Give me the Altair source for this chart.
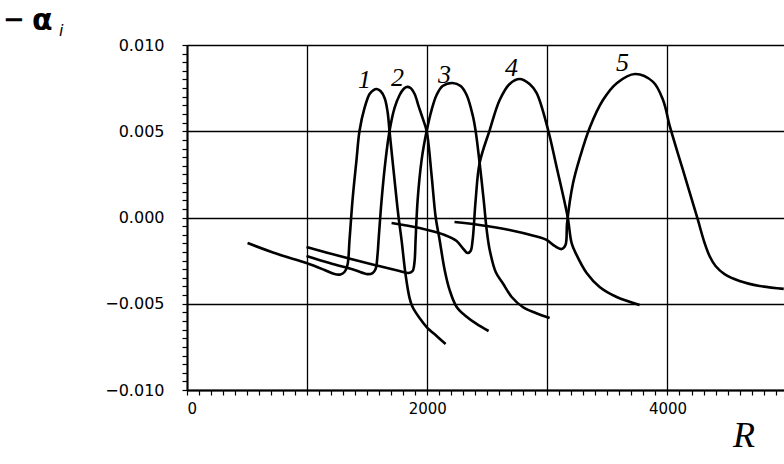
import altair as alt
import pandas as pd

# ---- curve data (R, -alpha_i) ----
c1_R = [504, 754, 995, 1145, 1228, 1278, 1311, 1336, 1353, 1378, 1411, 1436, 1478, 1520, 1553, 1578,
        1611, 1645, 1670, 1686, 1728, 1761, 1786, 1820, 1853, 1878, 1936, 1995, 2078, 2153]
c1_a = [-0.00148, -0.00212, -0.00264, -0.00304, -0.00328, -0.00330, -0.00316, -0.00275, -0.00130, 0.00101,
        0.00333, 0.00501, 0.00635, 0.00716, 0.00739, 0.00745, 0.00733, 0.00693, 0.00612, 0.00501,
        0.00217, 0.00003, -0.00130, -0.00333, -0.00467, -0.00519, -0.00583, -0.00635, -0.00687, -0.00733]

c2_R = [995, 1187, 1395, 1503, 1545, 1570, 1586, 1595, 1620, 1653, 1686, 1728, 1770, 1803, 1828, 1861,
        1895, 1928, 1961, 1995, 2036, 2070, 2103, 2145, 2186, 2245, 2320, 2411, 2511]
c2_a = [-0.00223, -0.00264, -0.00304, -0.00328, -0.00322, -0.00299, -0.00217, -0.00130, 0.00101, 0.00333,
        0.00501, 0.00635, 0.00710, 0.00745, 0.00757, 0.00751, 0.00716, 0.00646, 0.00577, 0.00501,
        0.00246, 0.00003, -0.00130, -0.00304, -0.00420, -0.00519, -0.00571, -0.00617, -0.00658]

c3_R = [995, 1270, 1561, 1769, 1844, 1878, 1894, 1903, 1920, 1953, 1995, 2036, 2078, 2128, 2211, 2278,
        2328, 2378, 2403, 2436, 2470, 2495, 2520, 2570, 2628, 2703, 2795, 2903, 3019]
c3_a = [-0.00171, -0.00223, -0.00275, -0.00310, -0.00322, -0.00310, -0.00258, -0.00130, 0.00101, 0.00333,
        0.00501, 0.00623, 0.00710, 0.00762, 0.00780, 0.00762, 0.00710, 0.00594, 0.00501, 0.00316,
        0.00101, -0.00072, -0.00188, -0.00316, -0.00380, -0.00461, -0.00519, -0.00554, -0.00583]

c4_R = [1703, 1936, 2145, 2245, 2295, 2336, 2361, 2378, 2403, 2436, 2520, 2603, 2686, 2769, 2852,
        2910, 3002, 3077, 3169, 3202, 3243, 3327, 3435, 3577, 3768]
c4_a = [-0.00032, -0.00061, -0.00101, -0.00136, -0.00177, -0.00206, -0.00194, -0.00130, 0.00101, 0.00316,
        0.00507, 0.00681, 0.00774, 0.00803, 0.00774, 0.00722, 0.00519, 0.00293, 0.00003,
        -0.00148, -0.00217, -0.00322, -0.00403, -0.00461, -0.00507]

c5_R = [2227, 2435, 2685, 2893, 2993, 3060, 3118, 3151, 3164, 3214, 3272, 3355, 3463, 3580, 3730, 3880,
        3963, 4021, 4121, 4246, 4309, 4350, 4400, 4475, 4600, 4767, 4968]
c5_a = [-0.00026, -0.00043, -0.00072, -0.00107, -0.00130, -0.00165, -0.00183, -0.00159, -0.00032, 0.00200,
        0.00351, 0.00525, 0.00681, 0.00780, 0.00832, 0.00786, 0.00681, 0.00525, 0.00293, 0.00003,
        -0.00148, -0.00223, -0.00281, -0.00328, -0.00368, -0.00397, -0.00414]

curve_names = ["1", "2", "3", "4", "5"]
label_R = [1478, 1753, 2144, 2702, 3626]
label_a = [0.00797, 0.00809, 0.00826, 0.00867, 0.00896]

rows = []
for name, xs, ys in zip(curve_names, [c1_R, c2_R, c3_R, c4_R, c5_R], [c1_a, c2_a, c3_a, c4_a, c5_a]):
    for i, (xv, yv) in enumerate(zip(xs, ys)):
        rows.append({"curve": name, "R": xv, "alpha": yv, "order": i})
df = pd.DataFrame(rows)
lab_df = pd.DataFrame({"label": curve_names, "R": label_R, "alpha": label_a})

x_major = "datum.value % 1000 === 0"
y_major = "abs(datum.value * 200 - round(datum.value * 200)) < 1e-6"

xscale = alt.Scale(domain=[0, 4970], nice=False, zero=False)
yscale = alt.Scale(domain=[-0.010, 0.010], nice=False, zero=False)

axis_font = "DejaVu Sans"

x_axis = alt.Axis(
    values=list(range(0, 5000, 100)),
    format="d",
    labelExpr="datum.value % 2000 === 0 ? datum.label : ''",
    labelOverlap=False,
    labelFont=axis_font, labelFontSize=15, labelColor="black", labelPadding=6,
    grid=True, gridColor="black", gridWidth=1.3,
    gridOpacity={"condition": {"test": x_major, "value": 1}, "value": 0},
    domainColor="black", domainWidth=2,
    tickColor="black", tickSize=5, tickWidth=1.2,
    title=None,
)
y_axis = alt.Axis(
    values=[round(-0.010 + k * 0.0005, 4) for k in range(41)],
    format=".3f",
    labelExpr=y_major + " ? datum.label : ''",
    labelOverlap=False,
    labelFont=axis_font, labelFontSize=16, labelColor="black", labelPadding=18,
    grid=True, gridColor="black", gridWidth=1.3,
    gridOpacity={"condition": {"test": y_major, "value": 1}, "value": 0},
    domainColor="black", domainWidth=2,
    tickColor="black", tickSize=5, tickWidth=1.2,
    title=None,
)

lines = alt.Chart(df).mark_line(color="black", strokeWidth=2.6, clip=True, interpolate="catmull-rom").encode(
    x=alt.X("R:Q", scale=xscale, axis=x_axis),
    y=alt.Y("alpha:Q", scale=yscale, axis=y_axis),
    detail="curve:N",
    order="order:Q",
)

curve_labels = alt.Chart(lab_df).mark_text(
    font="Liberation Serif", fontStyle="italic", fontSize=26, baseline="middle", align="center", color="black"
).encode(
    x=alt.X("R:Q", scale=xscale, axis=x_axis),
    y=alt.Y("alpha:Q", scale=yscale, axis=y_axis),
    text="label:N",
)

title_df = pd.DataFrame({"t": ["\u2212"]})
title_txt = alt.Chart(title_df).mark_text(
    font="DejaVu Sans", fontWeight="bold", fontSize=26, align="left", baseline="middle", color="black"
).encode(x=alt.value(-184), y=alt.value(-25), text="t:N")

alpha_df = pd.DataFrame({"t": ["\u03b1"]})
alpha_txt = alt.Chart(alpha_df).mark_text(
    font="DejaVu Sans", fontWeight="bold", fontSize=30, align="left", baseline="alphabetic", color="black"
).encode(x=alt.value(-155), y=alt.value(-15), text="t:N")

sub_df = pd.DataFrame({"t": ["i"]})
sub_txt = alt.Chart(sub_df).mark_text(
    font="DejaVu Sans", fontStyle="italic", fontSize=16, align="left", baseline="alphabetic", color="black"
).encode(x=alt.value(-128), y=alt.value(-9), text="t:N")

r_df = pd.DataFrame({"t": ["R"]})
r_txt = alt.Chart(r_df).mark_text(
    font="Liberation Serif", fontStyle="italic", fontSize=36, align="left", baseline="alphabetic", color="black"
).encode(x=alt.value(546), y=alt.value(402), text="t:N")

chart = alt.layer(lines, curve_labels, title_txt, alpha_txt, sub_txt, r_txt).properties(
    width=597,
    height=345,
    autosize=alt.AutoSizeParams(type="none"),
    padding={"left": 187, "top": 45, "right": 0, "bottom": 74},
).configure_view(stroke=None)

chart.save("out.html", embed_options={"renderer": "svg", "actions": False})
